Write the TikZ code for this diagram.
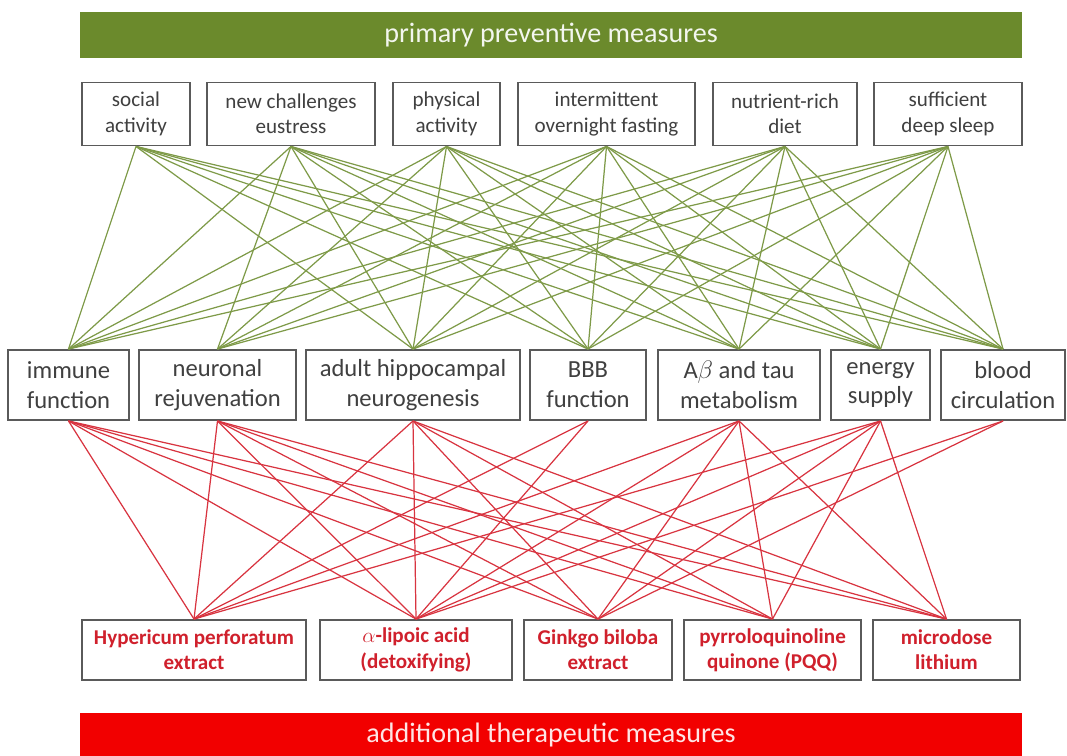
\documentclass[tikz,border=0pt]{standalone}
\usepackage{fontspec}
\setmainfont{Carlito}
\usepackage{xcolor}
\usepackage{tikz}
\usetikzlibrary{positioning}
\definecolor{leafc}{HTML}{6B8A2C}
\definecolor{leafl}{HTML}{7E9A48}
\definecolor{alarmc}{HTML}{F20000}
\definecolor{alarml}{HTML}{D83440}
\definecolor{alarmt}{HTML}{D0202C}
\definecolor{framec}{HTML}{5A5A5A}
\tikzset{
  gline/.style={leafl,line width=0.7pt},
  rline/.style={alarml,line width=0.7pt},
  band/.style={draw=none,minimum width=18.84cm,minimum height=0.92cm,font=\fontsize{16}{19}\selectfont},
  topbox/.style={draw=framec,line width=1.1pt,fill=white,align=center,minimum height=1.26cm,inner sep=2pt,font=\fontsize{12}{14.4}\selectfont,text=black!75},
  midbox/.style={draw=framec,line width=1.1pt,fill=white,align=center,minimum height=1.4cm,inner sep=2pt,font=\fontsize{14}{17}\selectfont,text=black!75},
  drugbox/.style={draw=framec,line width=1.1pt,fill=white,align=center,minimum height=1.2cm,inner sep=2pt,font=\fontsize{12}{14.4}\selectfont\bfseries,text=alarmt}
}
\begin{document}
\begin{tikzpicture}[x=0.02cm,y=-0.02cm]
\useasboundingbox (0,0) rectangle (1067,755);
% banners
\node[band,fill=leafc,text=white!92!leafc] (prim) at (551,35) {primary preventive measures};
\node[band,fill=alarmc,text=white!90!alarmc,minimum height=0.9cm] (addi) at (551,735) {additional therapeutic measures};
% preventive measures
\node[topbox,minimum width=2.16cm] (soc) at (136,114) {social\\activity};
\node[topbox,minimum width=3.36cm] (nch) at (291,114) {new challenges\\eustress};
\node[topbox,minimum width=2.14cm] (phy) at (446.5,114) {physical\\activity};
\node[topbox,minimum width=3.54cm] (ift) at (606.5,114) {intermittent\\overnight fasting};
\node[topbox,minimum width=2.88cm] (nut) at (785,114) {nutrient-rich\\diet};
\node[topbox,minimum width=2.96cm] (slp) at (948,114) {sufficient\\deep sleep};
% targets
\node[midbox,minimum width=2.42cm] (imm) at (68.5,385) {immune\\function};
\node[midbox,minimum width=3.14cm] (neu) at (217.5,385) {neuronal\\rejuvenation};
\node[midbox,minimum width=4.28cm] (ahn) at (413,385) {adult hippocampal\\neurogenesis};
\node[midbox,minimum width=2.32cm] (bbb) at (588,385) {BBB\\function};
\node[midbox,minimum width=3.24cm] (abt) at (739,385) {A$\beta$ and tau\\metabolism};
\node[midbox,minimum width=1.98cm] (ene) at (880.5,385) {energy\\supply};
\node[midbox,minimum width=2.48cm] (blc) at (1003,385) {blood\\circulation};
% therapeutic measures
\node[drugbox,minimum width=4.48cm] (hyp) at (194,650) {Hypericum perforatum\\extract};
\node[drugbox,minimum width=3.84cm] (ala) at (416,650) {$\alpha$-lipoic acid\\(detoxifying)};
\node[drugbox,minimum width=2.96cm] (gin) at (598,650) {Ginkgo biloba\\extract};
\node[drugbox,minimum width=3.54cm] (pqq) at (772.5,650) {pyrroloquinoline\\quinone (PQQ)};
\node[drugbox,minimum width=2.94cm] (lit) at (946.5,650) {microdose\\lithium};
% green links
\begin{scope}[on background layer/.style={}]
\foreach \a/\b in {soc/imm,soc/ahn,soc/bbb,soc/abt,soc/ene,soc/blc,
  nch/imm,nch/neu,nch/ahn,nch/bbb,nch/abt,nch/ene,nch/blc,
  phy/imm,phy/neu,phy/ahn,phy/bbb,phy/abt,phy/ene,phy/blc,
  ift/imm,ift/neu,ift/ahn,ift/bbb,ift/abt,ift/ene,ift/blc,
  nut/imm,nut/neu,nut/ahn,nut/bbb,nut/abt,nut/ene,nut/blc,
  slp/imm,slp/neu,slp/ahn,slp/bbb,slp/abt,slp/ene,slp/blc}
  \draw[gline] (\a.south) -- (\b.north);
% red links
\foreach \a/\b in {imm/hyp,imm/ala,imm/gin,imm/pqq,imm/lit,
  neu/hyp,neu/ala,neu/gin,neu/pqq,neu/lit,
  ahn/hyp,ahn/ala,ahn/gin,ahn/pqq,ahn/lit,
  bbb/hyp,bbb/ala,
  abt/hyp,abt/ala,abt/gin,abt/pqq,abt/lit,
  ene/hyp,ene/ala,ene/gin,ene/pqq,ene/lit,
  blc/ala,blc/gin}
  \draw[rline] (\a.south) -- (\b.north);
\end{scope}
\end{tikzpicture}
\end{document}
